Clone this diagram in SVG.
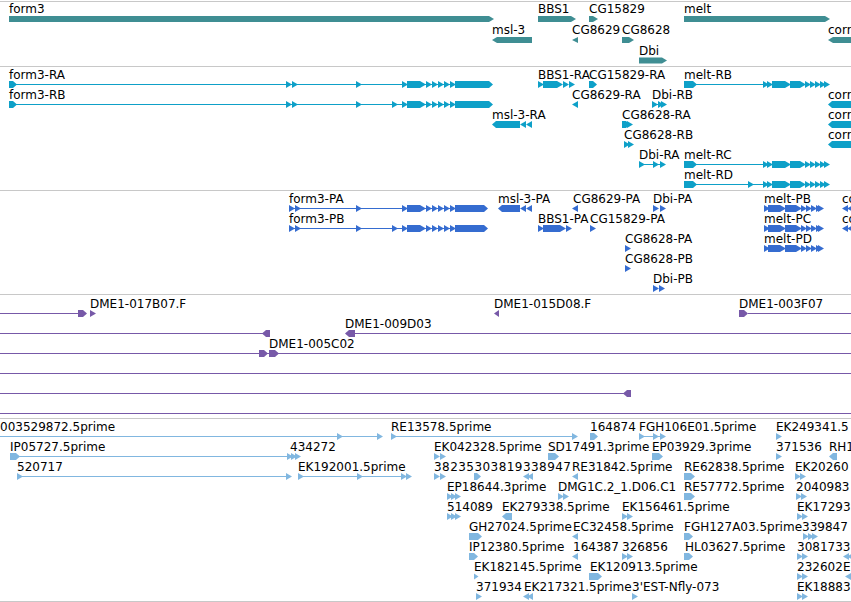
<svg xmlns="http://www.w3.org/2000/svg" xmlns:xlink="http://www.w3.org/1999/xlink" width="851" height="602" viewBox="0 0 851 602">
<style>
text{font-family:"DejaVu Sans","Liberation Sans",sans-serif;font-size:12px;fill:#000}
.sep{stroke:#c8c8c8;stroke-width:1}
.gene{color:#3f8e93}
.tr{color:#0ea0c8}
.pr{color:#356cd0}
.cl{color:#7759a8}
.est{color:#81b7e0}
path,rect,use{fill:currentColor}
line{stroke:currentColor;stroke-width:1}
</style>
<defs>
<path id="r" d="M0,-3.5L6,0L0,3.5Z"/>
<path id="l" d="M6,-3.5L0,0L6,3.5Z"/>
<g id="f3t">
<line x1="9" y1="0" x2="490" y2="0"/>
<path d="M9,-3.5H13L17,0L13,3.5H9Z M407,-3.5H420V3.5H407Z M455,-3.5H489L493,0L489,3.5H455Z"/>
<use href="#r" x="286"/><use href="#r" x="292"/><use href="#r" x="356"/><use href="#r" x="402"/><use href="#r" x="420"/><use href="#r" x="426"/><use href="#r" x="432"/><use href="#r" x="438"/><use href="#r" x="444"/><use href="#r" x="450"/>
</g>
<g id="f3p">
<line x1="289" y1="0" x2="485" y2="0"/>
<path d="M407,-3.5H420V3.5H407Z M455,-3.5H484L488,0L484,3.5H455Z"/>
<use href="#r" x="289"/><use href="#r" x="295"/><use href="#r" x="356"/><use href="#r" x="402"/><use href="#r" x="420"/><use href="#r" x="426"/><use href="#r" x="432"/><use href="#r" x="438"/><use href="#r" x="444"/><use href="#r" x="450"/>
</g>
<g id="meltT">
<line x1="684" y1="0" x2="828" y2="0"/>
<path d="M684,-3.5H693L697,0L693,3.5H684Z M772,-3.5H785V3.5H772Z M790,-3.5H800V3.5H790Z"/>
<use href="#r" x="763"/><use href="#r" x="767"/><use href="#r" x="785"/><use href="#r" x="800"/><use href="#r" x="805"/><use href="#r" x="810"/><use href="#r" x="815"/><use href="#r" x="820"/><use href="#r" x="824"/>
</g>
<g id="meltP">
<line x1="764" y1="0" x2="820" y2="0"/>
<path d="M768,-3.5H780V3.5H768Z M785,-3.5H796V3.5H785Z"/>
<use href="#r" x="764"/><use href="#r" x="780"/><use href="#r" x="796"/><use href="#r" x="801"/><use href="#r" x="806"/><use href="#r" x="811"/><use href="#r" x="816"/><use href="#r" x="818"/>
</g>
</defs>

<g id="separators">
<line class="sep" x1="0" y1="1.5" x2="851" y2="1.5"/>
<line class="sep" x1="0" y1="66.5" x2="851" y2="66.5"/>
<line class="sep" x1="0" y1="190.5" x2="851" y2="190.5"/>
<line class="sep" x1="0" y1="294.5" x2="851" y2="294.5"/>
<line class="sep" x1="0" y1="418.5" x2="851" y2="418.5"/>
<line class="sep" x1="0" y1="601.5" x2="851" y2="601.5"/>
</g>

<g id="genes" class="gene">
<g id="form3"><text x="9" y="13">form3</text><path d="M9,16H489L494,19L489,22H9Z"/></g>
<g id="BBS1"><text x="538" y="13">BBS1</text><path d="M538,16H571L576,19L571,22H538Z"/></g>
<g id="CG15829"><text x="589" y="13">CG15829</text><path d="M589,16H593L598,19L593,22H589Z"/></g>
<g id="melt"><text x="684" y="13">melt</text><path d="M684,16H825L830,19L825,22H684Z"/></g>
<g id="msl-3"><text x="492" y="34">msl-3</text><path d="M532,37H497L492,40L497,43H532Z"/></g>
<g id="CG8629"><text x="572" y="34">CG8629</text><path d="M578,37L572,40L578,43Z"/></g>
<g id="CG8628"><text x="622" y="34">CG8628</text><path d="M622,37H629L634,40L629,43H622Z"/></g>
<g id="corr"><text x="828" y="34">corr</text><path d="M860,37H833L828,40L833,43H860Z"/></g>
<g id="Dbi"><text x="639" y="55">Dbi</text><path d="M639,57.5H662L667,60.5L662,63.5H639Z"/></g>
</g>

<g id="transcripts" class="tr">
<g id="form3-RA"><text x="9" y="78.5">form3-RA</text><use href="#f3t" y="84.5"/></g>
<g id="form3-RB"><text x="9" y="98.5">form3-RB</text><use href="#f3t" y="104.5"/><use href="#r" x="392" y="104.5"/></g>
<g id="BBS1-RA"><text x="538" y="78.5">BBS1-RA</text><path d="M543,81H557V88H543Z"/><use href="#r" x="538" y="84.5"/><use href="#r" x="557" y="84.5"/><use href="#r" x="563" y="84.5"/><use href="#r" x="569" y="84.5"/></g>
<g id="CG15829-RA"><text x="589" y="78.5">CG15829-RA</text><path d="M589,81H593L597,84.5L593,88H589Z"/></g>
<g id="melt-RB"><text x="684" y="78.5">melt-RB</text><use href="#meltT" y="84.5"/></g>
<g id="CG8629-RA"><text x="572" y="98.5">CG8629-RA</text><use href="#l" x="572" y="104.5"/></g>
<g id="Dbi-RB"><text x="652" y="98.5">Dbi-RB</text><line x1="652" y1="104.5" x2="665" y2="104.5"/><use href="#r" x="652" y="104.5"/><use href="#r" x="658" y="104.5"/><use href="#r" x="661" y="104.5"/></g>
<g id="corr-RA"><text x="828" y="98.5">corr</text><path d="M860,101H832L828,104.5L832,108H860Z"/></g>
<g id="msl-3-RA"><text x="492" y="118.5">msl-3-RA</text><path d="M520,121H496L492,124.5L496,128H520Z"/><use href="#l" x="520" y="124.5"/><use href="#l" x="526" y="124.5"/></g>
<g id="CG8628-RA"><text x="622" y="118.5">CG8628-RA</text><path d="M622,121H626L630,124.5L626,128H622Z"/><use href="#r" x="627" y="124.5"/></g>
<g id="corr-RB"><text x="828" y="118.5">corr</text><path d="M860,121H832L828,124.5L832,128H860Z"/></g>
<g id="CG8628-RB"><text x="624" y="138.5">CG8628-RB</text><use href="#r" x="624" y="144.5"/><use href="#r" x="628" y="144.5"/></g>
<g id="corr-RC"><text x="828" y="138.5">corr</text><path d="M860,141H832L828,144.5L832,148H860Z"/></g>
<g id="Dbi-RA"><text x="639" y="158.5">Dbi-RA</text><line x1="639" y1="164.5" x2="665" y2="164.5"/><use href="#r" x="639" y="164.5"/><use href="#r" x="653" y="164.5"/><use href="#r" x="660" y="164.5"/></g>
<g id="melt-RC"><text x="684" y="158.5">melt-RC</text><use href="#meltT" y="164.5"/></g>
<g id="melt-RD"><text x="684" y="178.5">melt-RD</text><use href="#meltT" y="184.5"/><use href="#r" x="748" y="184.5"/></g>
</g>

<g id="proteins" class="pr">
<g id="form3-PA"><text x="289" y="202.5">form3-PA</text><use href="#f3p" y="208.5"/></g>
<g id="form3-PB"><text x="289" y="222.5">form3-PB</text><use href="#f3p" y="228.5"/><use href="#r" x="392" y="228.5"/></g>
<g id="msl-3-PA"><text x="498" y="202.5">msl-3-PA</text><path d="M520,205H502L498,208.5L502,212H520Z"/><use href="#l" x="520" y="208.5"/><use href="#l" x="526" y="208.5"/></g>
<g id="CG8629-PA"><text x="573" y="202.5">CG8629-PA</text><use href="#l" x="572" y="208.5"/></g>
<g id="Dbi-PA"><text x="653" y="202.5">Dbi-PA</text><use href="#r" x="653" y="208.5"/><use href="#r" x="660" y="208.5"/></g>
<g id="melt-PB"><text x="764" y="202.5">melt-PB</text><use href="#meltP" y="208.5"/></g>
<g id="corr-PA"><text x="842" y="202.5">co</text><use href="#l" x="842" y="208.5"/><use href="#l" x="847" y="208.5"/></g>
<g id="BBS1-PA"><text x="538" y="222.5">BBS1-PA</text><path d="M543,225H560V232H543Z"/><use href="#r" x="538" y="228.5"/><use href="#r" x="560" y="228.5"/><use href="#r" x="566" y="228.5"/></g>
<g id="CG15829-PA"><text x="590" y="222.5">CG15829-PA</text><use href="#r" x="590" y="228.5"/></g>
<g id="melt-PC"><text x="764" y="222.5">melt-PC</text><use href="#meltP" y="228.5"/></g>
<g id="corr-PB"><text x="842" y="222.5">co</text><use href="#l" x="842" y="228.5"/><use href="#l" x="847" y="228.5"/></g>
<g id="CG8628-PA"><text x="625" y="242.5">CG8628-PA</text><use href="#r" x="625" y="248.5"/></g>
<g id="melt-PD"><text x="764" y="242.5">melt-PD</text><use href="#meltP" y="248.5"/></g>
<g id="CG8628-PB"><text x="625" y="262.5">CG8628-PB</text><use href="#r" x="625" y="268.5"/></g>
<g id="Dbi-PB"><text x="653" y="282.5">Dbi-PB</text><use href="#r" x="653" y="288.5"/><use href="#r" x="659" y="288.5"/></g>
</g>

<g id="clones" class="cl">
<g id="DME1-017B07.F"><text x="90" y="307.5">DME1-017B07.F</text><line x1="0" y1="313.5" x2="80" y2="313.5"/><path d="M78,310H83L87,313.5L83,317H78Z"/><use href="#r" x="90" y="313.5"/></g>
<g id="DME1-015D08.F"><text x="494" y="307.5">DME1-015D08.F</text><path d="M499,310L494,313.5L499,317Z"/></g>
<g id="DME1-003F07"><text x="739" y="307.5">DME1-003F07</text><path d="M739,310H744L748,313.5L744,317H739Z"/><line x1="748" y1="313.5" x2="851" y2="313.5"/></g>
<g id="clone-a"><line x1="0" y1="333.5" x2="266" y2="333.5"/><path d="M270,330H266L262,333.5L266,337H270Z"/></g>
<g id="DME1-009D03"><text x="345" y="327.5">DME1-009D03</text><path d="M355,330H349L345,333.5L349,337H355Z"/><line x1="354" y1="333.5" x2="851" y2="333.5"/></g>
<g id="DME1-005C02"><text x="269" y="347.5">DME1-005C02</text><line x1="0" y1="353.5" x2="851" y2="353.5"/><path d="M259,350H264L268,353.5L264,357H259Z M269,350H275L279,353.5L275,357H269Z"/></g>
<g id="clone-b"><line x1="0" y1="373.5" x2="851" y2="373.5"/></g>
<g id="clone-c"><line x1="0" y1="393.5" x2="626" y2="393.5"/><path d="M631,390H627L623,393.5L627,397H631Z"/></g>
<g id="clone-d"><line x1="0" y1="413.5" x2="851" y2="413.5"/></g>
</g>

<g id="ests" class="est">
<g id="e003529872"><text x="0" y="430.5">003529872.5prime</text><line x1="0" y1="436.5" x2="382" y2="436.5"/><use href="#r" x="337" y="436.5"/><use href="#r" x="377" y="436.5"/></g>
<g id="RE13578"><text x="391" y="430.5">RE13578.5prime</text><line x1="391" y1="436.5" x2="576" y2="436.5"/><use href="#r" x="391" y="436.5"/><use href="#r" x="572" y="436.5"/></g>
<g id="e164874"><text x="590" y="430.5">164874</text><path d="M590,433H594L598,436.5L594,440H590Z"/></g>
<g id="FGH106E01"><text x="639" y="430.5">FGH106E01.5prime</text><line x1="639" y1="436.5" x2="665" y2="436.5"/><use href="#r" x="639" y="436.5"/><use href="#r" x="653" y="436.5"/><use href="#r" x="660" y="436.5"/></g>
<g id="EK249341"><text x="776" y="430.5">EK249341.5</text><use href="#r" x="776" y="436.5"/></g>

<g id="IP05727"><text x="10" y="450.5">IP05727.5prime</text><line x1="10" y1="456.5" x2="296" y2="456.5"/><path d="M10,453H16L20,456.5L16,460H10Z"/><use href="#r" x="287" y="456.5"/></g>
<g id="e434272"><text x="290" y="450.5">434272</text><use href="#r" x="291" y="456.5"/><use href="#r" x="295" y="456.5"/></g>
<g id="EK042328"><text x="434" y="450.5">EK042328.5prime</text><use href="#r" x="434" y="456.5"/><use href="#r" x="440" y="456.5"/></g>
<g id="SD17491"><text x="548" y="450.5">SD17491.3prime</text><path d="M548,453H555L559,456.5L555,460H548Z"/></g>
<g id="EP03929"><text x="652" y="450.5">EP03929.3prime</text><path d="M652,453H659L663,456.5L659,460H652Z"/></g>
<g id="e371536"><text x="776" y="450.5">371536</text><use href="#r" x="776" y="456.5"/></g>
<g id="RH1"><text x="829" y="450.5">RH1</text><path d="M837,453H833L829,456.5L833,460H837Z"/></g>

<g id="e520717"><text x="17" y="470.5">520717</text><line x1="17" y1="476.5" x2="290" y2="476.5"/><use href="#r" x="17" y="476.5"/><use href="#r" x="286" y="476.5"/></g>
<g id="EK192001"><text x="298" y="470.5">EK192001.5prime</text><line x1="298" y1="476.5" x2="410" y2="476.5"/><use href="#r" x="298" y="476.5"/><use href="#r" x="357" y="476.5"/><use href="#r" x="401" y="476.5"/><use href="#r" x="406" y="476.5"/></g>
<g id="e38235303819338947"><text x="434" y="470.5" textLength="137" lengthAdjust="spacing">38235303819338947</text><use href="#r" x="434" y="476.5"/><use href="#r" x="440" y="476.5"/><path d="M474,473H477L481,476.5L477,480H474Z"/><use href="#l" x="523" y="476.5"/><use href="#l" x="527" y="476.5"/></g>
<g id="RE31842"><text x="572" y="470.5">RE31842.5prime</text><use href="#l" x="572" y="476.5"/></g>
<g id="RE62838"><text x="684" y="470.5">RE62838.5prime</text><path d="M684,473H691L695,476.5L691,480H684Z"/></g>
<g id="EK20260"><text x="795" y="470.5">EK20260</text><use href="#r" x="795" y="476.5"/><use href="#r" x="800" y="476.5"/></g>

<g id="EP18644"><text x="447" y="490.5">EP18644.3prime</text><use href="#r" x="447" y="496.5"/><use href="#r" x="451" y="496.5"/><use href="#r" x="455" y="496.5"/></g>
<g id="DMG1C"><text x="558" y="490.5">DMG1C.2_1.D06.C1</text><use href="#r" x="558" y="496.5"/><use href="#r" x="563" y="496.5"/></g>
<g id="RE57772"><text x="684" y="490.5">RE57772.5prime</text><path d="M684,493H691L695,496.5L691,500H684Z"/></g>
<g id="e2040983"><text x="796" y="490.5">2040983</text><use href="#r" x="796" y="496.5"/><use href="#r" x="801" y="496.5"/></g>

<g id="e514089"><text x="447" y="510.5">514089</text><use href="#r" x="447" y="516.5"/><use href="#r" x="451" y="516.5"/><use href="#r" x="455" y="516.5"/></g>
<g id="EK279338"><text x="502" y="510.5">EK279338.5prime</text><path d="M512,513H506L502,516.5L506,520H512Z"/></g>
<g id="EK156461"><text x="622" y="510.5">EK156461.5prime</text><use href="#r" x="622" y="516.5"/><use href="#r" x="627" y="516.5"/></g>
<g id="EK17293"><text x="797" y="510.5">EK17293</text><use href="#r" x="797" y="516.5"/><use href="#r" x="802" y="516.5"/></g>

<g id="GH27024"><text x="469" y="530.5">GH27024.5prime</text><path d="M469,533H478L482,536.5L478,540H469Z"/></g>
<g id="EC32458"><text x="573" y="530.5">EC32458.5prime</text><use href="#l" x="572" y="536.5"/></g>
<g id="FGH127A03"><text x="684" y="530.5">FGH127A03.5prime</text><path d="M684,533H689L693,536.5L689,540H684Z"/></g>
<g id="e339847"><text x="802" y="530.5">339847</text><use href="#r" x="803" y="536.5"/><use href="#r" x="808" y="536.5"/><use href="#r" x="812" y="536.5"/></g>

<g id="IP12380"><text x="469" y="550.5">IP12380.5prime</text><path d="M469,553H474L478,556.5L474,560H469Z"/></g>
<g id="e164387"><text x="573" y="550.5">164387</text><use href="#l" x="572" y="556.5"/></g>
<g id="e326856"><text x="622" y="550.5">326856</text><use href="#r" x="622" y="556.5"/><use href="#r" x="627" y="556.5"/></g>
<g id="HL03627"><text x="685" y="550.5">HL03627.5prime</text><path d="M684,553H689L693,556.5L689,560H684Z"/></g>
<g id="e3081733"><text x="797" y="550.5">3081733</text><use href="#r" x="797" y="556.5"/><use href="#r" x="802" y="556.5"/><use href="#l" x="843" y="556.5"/><use href="#l" x="847" y="556.5"/></g>

<g id="EK182145"><text x="474" y="570.5">EK182145.5prime</text><path d="M474,573.5L478.5,576.5L474,579.5Z"/></g>
<g id="EK120913"><text x="590" y="570.5">EK120913.5prime</text><path d="M589,573H598L602,576.5L598,580H589Z"/></g>
<g id="e232602"><text x="797" y="570.5">232602</text><use href="#r" x="797" y="576.5"/><use href="#r" x="802" y="576.5"/></g>
<g id="EK-right"><text x="843" y="570.5">EK</text><use href="#l" x="845" y="576.5"/></g>

<g id="e371934"><text x="476" y="590.5">371934</text><use href="#r" x="476" y="596.5"/></g>
<g id="EK217321"><text x="524" y="590.5">EK217321.5prime</text><use href="#l" x="523" y="596.5"/><use href="#l" x="527" y="596.5"/></g>
<g id="EST-Nfly-073"><text x="632" y="590.5">3'EST-Nfly-073</text><use href="#r" x="632" y="596.5"/></g>
<g id="EK18883"><text x="797" y="590.5">EK18883</text><use href="#r" x="797" y="596.5"/><use href="#r" x="802" y="596.5"/></g>
</g>
</svg>
